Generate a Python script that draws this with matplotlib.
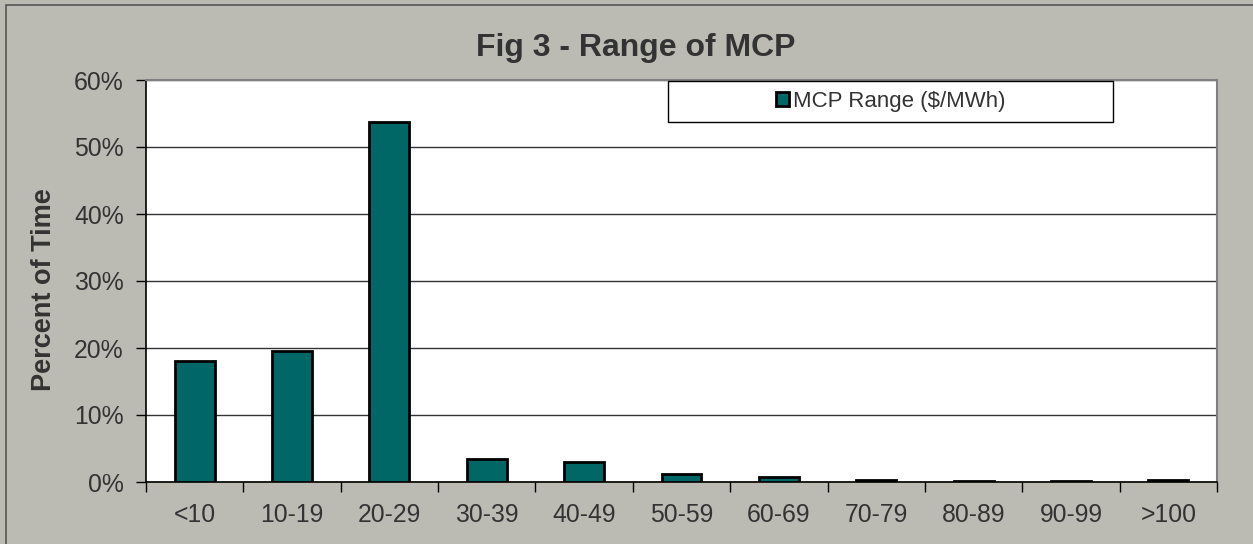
import matplotlib
matplotlib.use("Agg")
import matplotlib.pyplot as plt
from matplotlib.patches import Rectangle
from matplotlib.ticker import MultipleLocator, FuncFormatter

categories = ["<10", "10-19", "20-29", "30-39", "40-49", "50-59", "60-69",
              "70-79", "80-89", "90-99", ">100"]
values = [18.0, 19.6, 53.7, 3.4, 3.0, 1.2, 0.7, 0.3, 0.2, 0.2, 0.3]
series_name = "MCP Range ($/MWh)"
title = "Fig 3 - Range of MCP"
ylabel = "Percent of Time"

plt.rcParams['font.family'] = ['Liberation Sans', 'DejaVu Sans']
W, H = 1253, 544
fig = plt.figure(figsize=(W / 100, H / 100), dpi=100)
bg = "#BBBBB3"
fig.patch.set_facecolor(bg)
txt = "#333333"

# figure border (partially cut off on right/bottom)
fig.patches.append(Rectangle((6 / W, -0.05), 1.1, 1 - 5 / H + 0.05,
                             transform=fig.transFigure, fill=False,
                             edgecolor="#555555", linewidth=1.2))

left, right, top, bottom = 146 / W, 1217 / W, 80 / H, 482 / H
ax = fig.add_axes([left, 1 - bottom, right - left, bottom - top])
ax.set_facecolor("white")

x = list(range(len(categories)))
ax.bar(x, values, width=0.41, color="#006666", edgecolor="black",
       linewidth=2, zorder=3, label=series_name)

ax.set_xlim(-0.5, len(categories) - 0.5)
ax.set_ylim(0, 60)
ax.yaxis.set_major_locator(MultipleLocator(10))
ax.yaxis.set_major_formatter(FuncFormatter(lambda v, p: f"{v:.0f}%"))
ax.grid(axis="y", color="#333333", linewidth=1, zorder=0)
ax.set_axisbelow(True)

ax.set_xticks(x)
ax.set_xticklabels(categories)
ax.set_xticks([i - 0.5 for i in range(len(categories) + 1)], minor=True)
ax.tick_params(axis="x", which="major", length=0, pad=15,
               labelsize=17.8, labelcolor=txt)
ax.tick_params(axis="x", which="minor", length=7, width=1, color="black",
               direction="out")
ax.tick_params(axis="y", length=7, width=1, color="black", direction="out",
               labelsize=17.8, labelcolor=txt, pad=9)

for s in ["top", "right"]:
    ax.spines[s].set_color("#808080")
    ax.spines[s].set_linewidth(1.5)
for s in ["left", "bottom"]:
    ax.spines[s].set_color("black")
    ax.spines[s].set_linewidth(1.2)

fig.text(636 / W, 1 - 48 / H, title, ha="center",
         va="center", fontsize=23, fontweight="bold", color=txt)
fig.text(44 / W, 1 - 290 / H, ylabel, rotation=90, ha="center",
         va="center", fontsize=19.5, fontweight="bold", color=txt)

# legend frame and centered legend content
lx0, lx1, ly0, ly1 = 668, 1113, 81, 122
fig.patches.append(Rectangle((lx0 / W, 1 - ly1 / H), (lx1 - lx0) / W,
                             (ly1 - ly0) / H, transform=fig.transFigure,
                             facecolor="white", edgecolor="black",
                             linewidth=1, zorder=5))
leg = fig.legend(loc="center",
                 bbox_to_anchor=((lx0 + lx1) / 2 / W, 1 - (ly0 + ly1) / 2 / H),
                 frameon=False, fontsize=16, handlelength=0.6,
                 handleheight=0.6, handletextpad=0.15, borderpad=0)
leg.set_zorder(6)
for t in leg.get_texts():
    t.set_color(txt)

fig.savefig("out.png", dpi=100, facecolor=bg)
